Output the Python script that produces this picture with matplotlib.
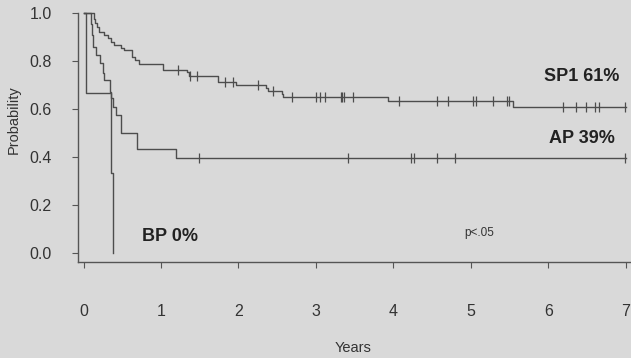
import matplotlib
matplotlib.use("Agg")
import matplotlib.pyplot as plt
import numpy as np

plt.rcParams['font.family'] = ['Liberation Sans', 'DejaVu Sans']

# Kaplan-Meier step data (time in years, survival probability)
sp1_times = [0.0, 0.13, 0.15, 0.17, 0.20, 0.26, 0.32, 0.36, 0.40, 0.48, 0.52, 0.62, 0.66, 0.72,
             1.02, 1.34, 1.36, 1.74, 1.97, 2.36, 2.38, 2.56, 2.58, 3.93, 5.54, 7.0]
sp1_surv = [1.0, 0.975, 0.96, 0.943, 0.922, 0.908, 0.894, 0.88, 0.867, 0.853, 0.846, 0.818, 0.804, 0.787,
            0.7625, 0.753, 0.739, 0.714, 0.700, 0.686, 0.676, 0.662, 0.649, 0.633, 0.61, 0.61]
sp1_censor = [1.215, 1.38, 1.47, 1.83, 1.925, 2.25, 2.44, 2.69, 3.0, 3.05, 3.12, 3.32, 3.34, 3.36,
              3.48, 4.07, 4.56, 4.70, 5.02, 5.07, 5.29, 5.46, 5.49, 6.19, 6.35, 6.49, 6.60, 6.65, 6.99]

ap_times = [0.0, 0.10, 0.11, 0.12, 0.165, 0.21, 0.25, 0.27, 0.34, 0.36, 0.38, 0.42, 0.49, 0.69, 1.20, 7.0]
ap_surv = [1.0, 0.955, 0.91, 0.86, 0.825, 0.79, 0.75, 0.72, 0.672, 0.645, 0.61, 0.575, 0.50, 0.432, 0.395, 0.395]
ap_censor = [1.49, 3.41, 4.23, 4.27, 4.56, 4.79, 6.99]

bp_times = [0.0, 0.035, 0.36, 0.385]
bp_surv = [1.0, 0.667, 0.333, 0.0]

x_ticks = [0, 1, 2, 3, 4, 5, 6, 7]
y_ticks = [0.0, 0.2, 0.4, 0.6, 0.8, 1.0]
y_ticklabels = ["0.0", "0.2", "0.4", "0.6", "0.8", "1.0"]

W, H = 631, 358
bg = "#d9d9d9"
fig = plt.figure(figsize=(W / 100, H / 100), dpi=100, facecolor=bg)
ax = fig.add_axes([78 / W, (H - 262) / H, (W - 78) / W, (262 - 13) / H])
ax.set_facecolor(bg)
ax.patch.set_alpha(0)

lc = "#4d4d4d"
for t, s in [(sp1_times, sp1_surv), (ap_times, ap_surv), (bp_times, bp_surv)]:
    ax.step(t, s, where="post", color=lc, lw=1.0, clip_on=False)

def surv_at(times, surv, c):
    idx = np.searchsorted(times, c, side="right") - 1
    return surv[idx]

ax.plot(sp1_censor, [surv_at(sp1_times, sp1_surv, c) for c in sp1_censor], ls="none",
        marker="|", ms=7, mew=0.9, color=lc, clip_on=False)
ax.plot(ap_censor, [surv_at(ap_times, ap_surv, c) for c in ap_censor], ls="none",
        marker="|", ms=7, mew=0.9, color=lc, clip_on=False)

ax.set_xlim(-0.071, 7.065)
ax.set_ylim(-0.0375, 1.0)
for s in ["top", "right"]:
    ax.spines[s].set_visible(False)
for s in ["left", "bottom"]:
    ax.spines[s].set_color("#555555")
    ax.spines[s].set_linewidth(1.0)

ax.set_xticks(x_ticks)
ax.set_xticklabels([str(v) for v in x_ticks])
ax.set_yticks(y_ticks)
ax.set_yticklabels(y_ticklabels)
ax.tick_params(axis="x", direction="out", length=4, width=0.8, color="#555555",
               pad=26, labelsize=11.5, labelcolor="#333333")
ax.tick_params(axis="y", direction="out", length=4, width=0.8, color="#555555",
               pad=15, labelsize=11.5, labelcolor="#333333")
for lbl in ax.get_xticklabels():
    if lbl.get_text() == "7":
        lbl.set_ha("center")

fig.text(353 / W, 1 - 348 / H, "Years", ha="center", va="center", fontsize=10.5, color="#333333")
fig.text(14 / W, 1 - 120 / H, "Probability", ha="center", va="center", rotation=90,
         fontsize=10.5, color="#333333")

ax.text(6.91, 0.735, "SP1 61%", ha="right", va="center", fontsize=13, fontweight="bold", color="#222222")
ax.text(6.86, 0.478, "AP 39%", ha="right", va="center", fontsize=13, fontweight="bold", color="#222222")
ax.text(0.75, 0.067, "BP 0%", ha="left", va="center", fontsize=13, fontweight="bold", color="#222222")
ax.text(4.92, 0.083, "p<.05", ha="left", va="center", fontsize=8.5, color="#333333")

fig.savefig("out.png", dpi=100, facecolor=bg)
